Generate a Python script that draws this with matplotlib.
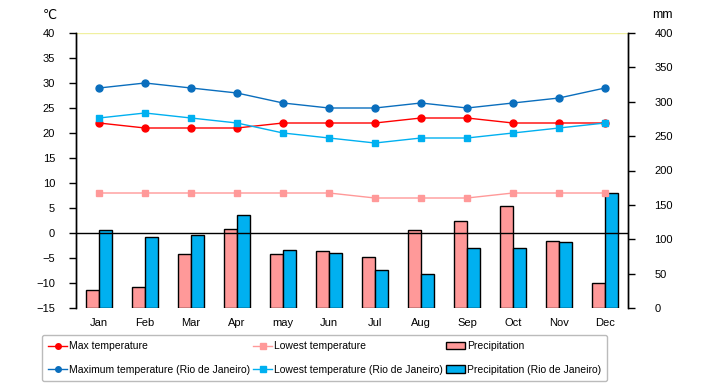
import numpy as np
import matplotlib
matplotlib.use('Agg')
import matplotlib.pyplot as plt

months = ['Jan', 'Feb', 'Mar', 'Apr', 'may', 'Jun', 'Jul', 'Aug', 'Sep', 'Oct', 'Nov', 'Dec']

max_temp = [22, 21, 21, 21, 22, 22, 22, 23, 23, 22, 22, 22]
low_temp = [8, 8, 8, 8, 8, 8, 7, 7, 7, 8, 8, 8]
precip = [26, 31, 78, 115, 78, 83, 74, 113, 126, 148, 97, 36]

rio_max_temp = [29, 30, 29, 28, 26, 25, 25, 26, 25, 26, 27, 29]
rio_low_temp = [23, 24, 23, 22, 20, 19, 18, 19, 19, 20, 21, 22]
rio_precip = [113, 104, 106, 136, 85, 80, 55, 50, 87, 87, 96, 168]

plt.rcParams['font.family'] = ['Liberation Sans', 'DejaVu Sans']
plt.rcParams['font.size'] = 8

fig = plt.figure(figsize=(7.2, 3.85), dpi=100)
ax = fig.add_axes([76/720, 1-308/385, 552/720, 275/385])
ax2 = ax.twinx()

# bars on the right (mm) axis, drawn under the temperature lines
x = np.arange(len(months))
w = 0.29
ax2.bar(x - w/2, precip, w, color='#FF9999', edgecolor='black', linewidth=1, label='Precipitation')
ax2.bar(x + w/2, rio_precip, w, color='#00B0F0', edgecolor='black', linewidth=1, label='Precipitation (Rio de Janeiro)')
ax2.set_ylim(0, 400)
ax2.set_yticks(range(0, 401, 50))
ax2.set_facecolor('#FFFFCC')

ax.set_zorder(ax2.get_zorder() + 1)
ax.patch.set_visible(False)

ax.axhline(0, color='black', linewidth=1)
ax.plot(x, max_temp, color='#FF0000', marker='o', markersize=5, linewidth=1, label='Max temperature')
ax.plot(x, rio_max_temp, color='#0A6EBD', marker='o', markersize=5, linewidth=1, label='Maximum temperature (Rio de Janeiro)')
ax.plot(x, low_temp, color='#FF9999', marker='s', markersize=5, linewidth=1, label='Lowest temperature')
ax.plot(x, rio_low_temp, color='#00B0F0', marker='s', markersize=5, linewidth=1, label='Lowest temperature (Rio de Janeiro)')
ax.set_ylim(-15, 40)
ax.set_yticks(range(-15, 41, 5))
ax.set_xlim(-0.5, 11.5)
ax.set_xticks(x)
ax.set_xticklabels(months)
ax.tick_params(axis='x', length=0, pad=7)
ax2.tick_params(axis='x', length=0)

for a in (ax, ax2):
    a.spines['top'].set_visible(False)
    a.spines['bottom'].set_visible(False)
    a.spines['left'].set_linewidth(1)
    a.spines['right'].set_linewidth(1)
ax.tick_params(axis='y', direction='out', length=5, width=1, pad=10)
ax2.tick_params(axis='y', direction='out', length=5, width=1, pad=14)
ax2.plot([-0.5, 11.5], [400, 400], color='#F0F0A0', linewidth=1)

fig.text(50/720, 1-15/385, '℃', ha='center', va='center', fontsize=9,
         family=['DejaVu Sans'])
fig.text(662/720, 1-15/385, 'mm', ha='center', va='center', fontsize=9)

h1, l1 = ax.get_legend_handles_labels()
h2, l2 = ax2.get_legend_handles_labels()
handles = h1[0:2] + h1[2:4] + h2
labels = l1[0:2] + l1[2:4] + l2
leg = fig.legend(handles, labels, ncol=3, loc='center left',
                 bbox_to_anchor=(42/720, 1-358/385), borderaxespad=0,
                 frameon=True, fancybox=True,
                 edgecolor='#AAAAAA', handlelength=1.8, handletextpad=0.2,
                 columnspacing=0.3, labelspacing=1.25, borderpad=0.6, fontsize=7.5,
                 markerscale=0.8)
leg.get_frame().set_linewidth(1)

fig.savefig('out.png', dpi=100)
